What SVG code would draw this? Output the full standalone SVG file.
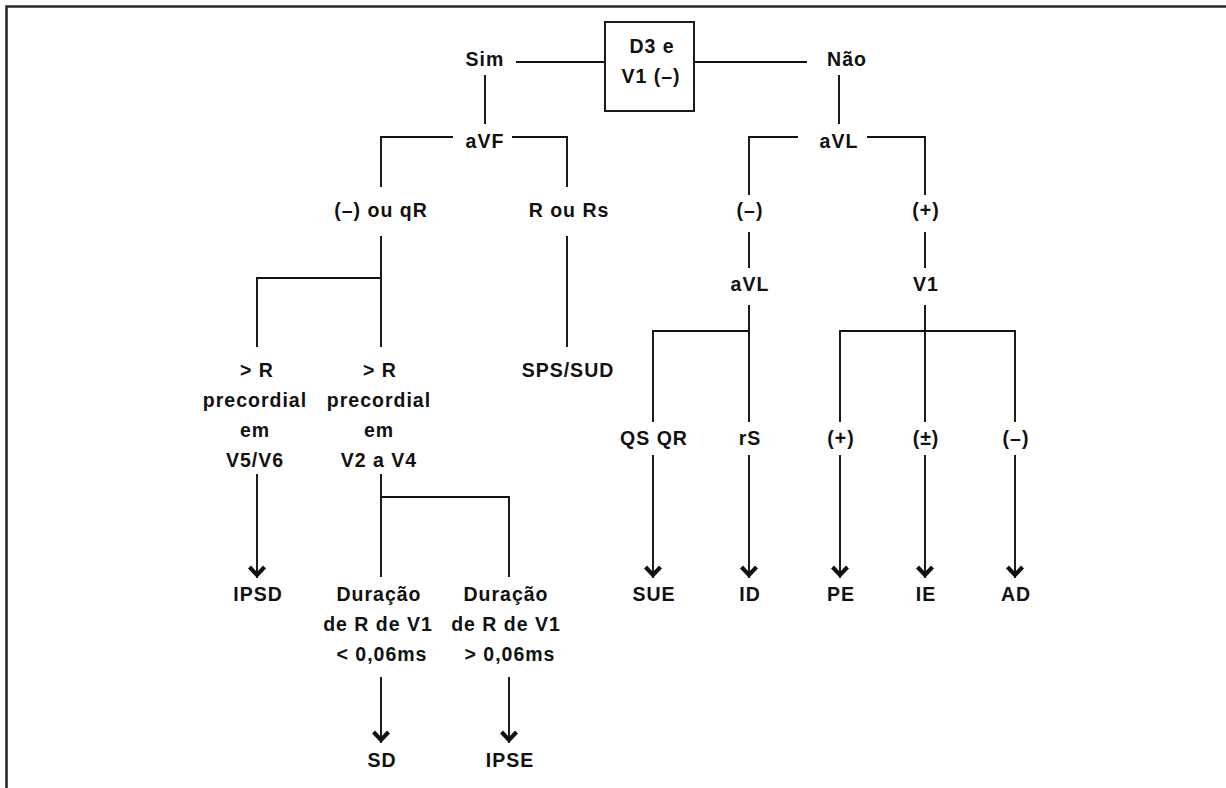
<svg xmlns="http://www.w3.org/2000/svg" width="1226" height="788" viewBox="0 0 1226 788">
<style>
text{font-family:"Liberation Sans",Arial,sans-serif;font-weight:bold;font-size:19.5px;letter-spacing:1px;fill:#111;text-anchor:middle}
.c{fill:none;stroke:#111;stroke-width:1.9}
.box{fill:#fff;stroke:#111;stroke-width:1.9}
.frame{fill:none;stroke:#2a2a2a;stroke-width:2.6}
</style>
<defs>
<marker id="chev" markerUnits="userSpaceOnUse" viewBox="-13 -10 14 20" markerWidth="14" markerHeight="20" refX="0" refY="0" orient="auto">
<path d="M0,0 L-9.5,-9 L-12.5,-6 L-6,0 L-12.5,6 L-9.5,9 Z" fill="#111"/>
</marker>
</defs>
<rect width="1226" height="788" fill="#fff"/>
<path class="frame" d="M6.5,788 V6.5 H1226"/>
<g id="connectors">
<path class="c" d="M516,62 H605 M694,62 H807"/>
<path class="c" d="M485,75 V124 M839,75 V124"/>
<path class="c" d="M453,137 H381 V187 M512,137 H567 V187"/>
<path class="c" d="M798,137 H749 V195 M867,137 H925 V195"/>
<path class="c" d="M381,236 V347 M381,278 H257 V347"/>
<path class="c" d="M567,236 V347"/>
<path class="c" d="M749,232 V268 M925,232 V268"/>
<path class="c" d="M749,305 V422 M749,331 H653 V422"/>
<path class="c" d="M925,305 V422 M840,422 V331 H1015 V422"/>
<path class="c" d="M381,474 V577 M381,497 H509 V577"/>
<path class="c" d="M653,455 V578" marker-end="url(#chev)"/>
<path class="c" d="M749,455 V578" marker-end="url(#chev)"/>
<path class="c" d="M840,455 V578" marker-end="url(#chev)"/>
<path class="c" d="M925,455 V578" marker-end="url(#chev)"/>
<path class="c" d="M1015,455 V578" marker-end="url(#chev)"/>
<path class="c" d="M257,474 V578" marker-end="url(#chev)"/>
<path class="c" d="M381,677 V743" marker-end="url(#chev)"/>
<path class="c" d="M509,677 V743" marker-end="url(#chev)"/>
</g>
<g id="root"><rect class="box" x="605" y="22" width="89" height="89"/><text x="652" y="53">D3 e</text><text x="651" y="83">V1 (–)</text></g>
<g id="sim"><text x="485" y="66">Sim</text></g>
<g id="nao"><text x="847" y="66">Não</text></g>
<g id="avf"><text x="485" y="148">aVF</text></g>
<g id="avl1"><text x="839" y="148">aVL</text></g>
<g id="neg-qr"><text x="381" y="217">(–) ou qR</text></g>
<g id="r-rs"><text x="569" y="217">R ou Rs</text></g>
<g id="avl-neg"><text x="750" y="217">(–)</text></g>
<g id="avl-pos"><text x="926" y="217">(+)</text></g>
<g id="avl2"><text x="750" y="291">aVL</text></g>
<g id="v1"><text x="926" y="291">V1</text></g>
<g id="r-v5v6"><text x="257" y="377">&gt; R</text><text x="255" y="407">precordial</text><text x="255" y="437">em</text><text x="255" y="467">V5/V6</text></g>
<g id="r-v2v4"><text x="380" y="377">&gt; R</text><text x="379" y="407">precordial</text><text x="379" y="437">em</text><text x="379" y="467">V2 a V4</text></g>
<g id="sps"><text x="568" y="377">SPS/SUD</text></g>
<g id="qsqr"><text x="654" y="445">QS QR</text></g>
<g id="rs"><text x="750" y="445">rS</text></g>
<g id="v1-pos"><text x="841" y="445">(+)</text></g>
<g id="v1-pm"><text x="926" y="445">(±)</text></g>
<g id="v1-neg"><text x="1016" y="445">(–)</text></g>
<g id="ipsd"><text x="258" y="601">IPSD</text></g>
<g id="sue"><text x="654" y="601">SUE</text></g>
<g id="id"><text x="750" y="601">ID</text></g>
<g id="pe"><text x="841" y="601">PE</text></g>
<g id="ie"><text x="926" y="601">IE</text></g>
<g id="ad"><text x="1016" y="601">AD</text></g>
<g id="dur-lt"><text x="379" y="601">Duração</text><text x="378" y="631">de R de V1</text><text x="382" y="661">&lt; 0,06ms</text></g>
<g id="dur-gt"><text x="506" y="601">Duração</text><text x="506" y="631">de R de V1</text><text x="510" y="661">&gt; 0,06ms</text></g>
<g id="sd"><text x="382" y="767">SD</text></g>
<g id="ipse"><text x="510" y="767">IPSE</text></g>
</svg>
